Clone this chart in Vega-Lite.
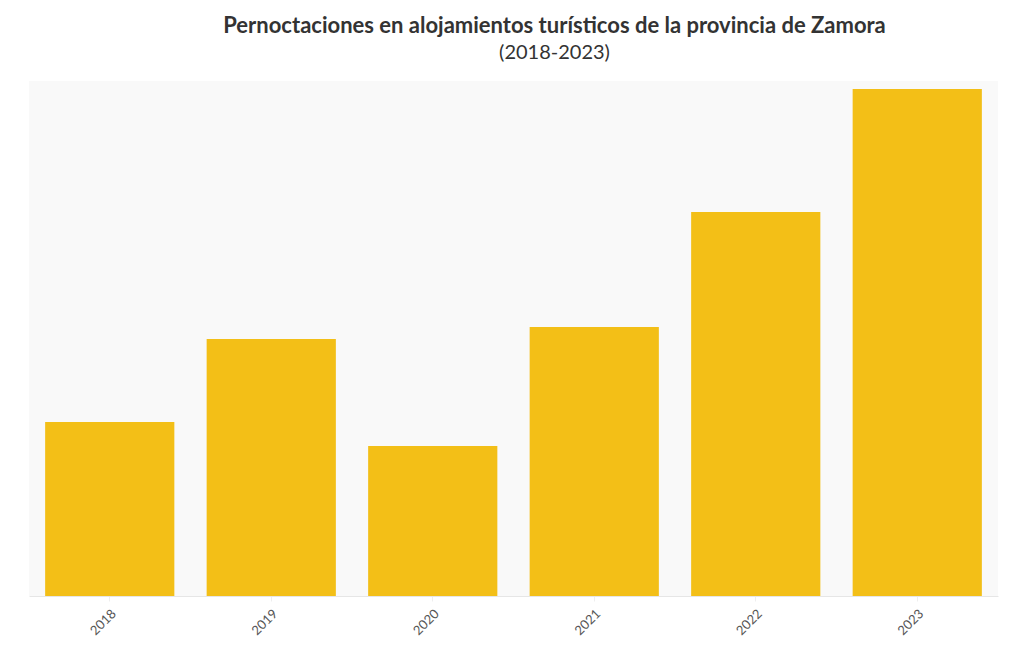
{
  "$schema": "https://vega.github.io/schema/vega-lite/v6.json",
  "autosize": "none",
  "width": 969,
  "height": 515,
  "padding": {"left": 29, "top": 81, "right": 22, "bottom": 54},
  "background": "#ffffff",
  "title": {
    "text": "Pernoctaciones en alojamientos turísticos de la provincia de Zamora",
    "subtitle": "(2018-2023)",
    "anchor": "middle",
    "dx": 41,
    "offset": 17,
    "font": "Lato",
    "fontSize": 22,
    "fontWeight": "bold",
    "color": "#333333",
    "subtitleFont": "Lato",
    "subtitleFontSize": 20,
    "subtitleColor": "#333333",
    "subtitlePadding": 5
  },
  "data": {
    "values": [
      {"year": "2018", "pernoctaciones": 348000},
      {"year": "2019", "pernoctaciones": 514000},
      {"year": "2020", "pernoctaciones": 300000},
      {"year": "2021", "pernoctaciones": 538000},
      {"year": "2022", "pernoctaciones": 768000},
      {"year": "2023", "pernoctaciones": 1014000}
    ]
  },
  "mark": {"type": "bar", "color": "#F3BF17"},
  "encoding": {
    "x": {
      "field": "year",
      "type": "ordinal",
      "scale": {"paddingInner": 0.2, "paddingOuter": 0.1},
      "axis": {
        "title": null,
        "labelAngle": -45,
        "labelFont": "Lato",
        "labelFontSize": 13,
        "labelColor": "#555555",
        "domainColor": "#e6e6e6",
        "tickColor": "#eeeeee",
        "tickSize": 5,
        "labelPadding": 6
      }
    },
    "y": {
      "field": "pernoctaciones",
      "type": "quantitative",
      "scale": {"domain": [0, 1030000], "nice": false},
      "axis": null
    }
  },
  "config": {
    "view": {"fill": "#f9f9f9", "stroke": null}
  }
}
